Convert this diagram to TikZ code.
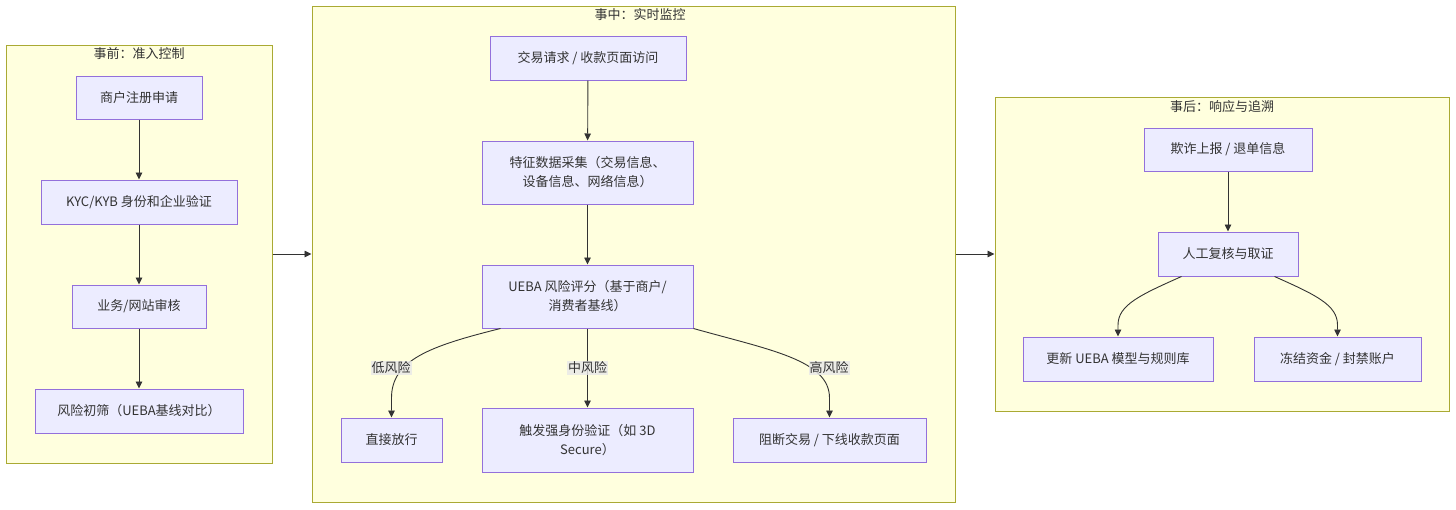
\documentclass[tikz,border=0pt]{standalone}
\usepackage{fontspec}
\setmainfont{Noto Sans CJK SC}
\usetikzlibrary{arrows.meta}
\definecolor{nodefill}{HTML}{ECECFF}
\definecolor{nodeline}{HTML}{9370DB}
\definecolor{clfill}{HTML}{FFFFDE}
\definecolor{clline}{HTML}{AAAA33}
\definecolor{ink}{HTML}{333333}
\definecolor{lblbg}{HTML}{E8E8E8}
\newcommand\myfs{\fontsize{13}{19}\selectfont}
\begin{document}
\begin{tikzpicture}[x=1pt,y=-1pt,
  box/.style={draw=nodeline, fill=nodefill, line width=1pt, inner sep=0pt, align=center, text=ink, font=\myfs},
  cluster/.style={draw=clline, fill=clfill, line width=1pt, inner sep=0pt},
  ctitle/.style={text=ink, font=\myfs, inner sep=0pt},
  lbl/.style={fill=lblbg, fill opacity=0.8, text opacity=1, text=ink, font=\myfs, inner sep=1pt},
  arr/.style={draw=ink, line width=0.9pt, -{Triangle[length=7pt,width=6.5pt]}}]
\useasboundingbox (0,0) rectangle (1456,509);
\fill[white] (0,0) rectangle (1456,509);
% clusters
\node[cluster, minimum width=266pt, minimum height=418pt] (c1) at (139,254) {};
\node[cluster, minimum width=643pt, minimum height=496pt] (c2) at (633.5,254) {};
\node[cluster, minimum width=454pt, minimum height=314pt] (c3) at (1222,254) {};
\node[ctitle] (t1) at (139,54) {事前：准入控制};
\node[ctitle] (t2) at (640,15) {事中：实时监控};
\node[ctitle] (t3) at (1222,107) {事后：响应与追溯};
% cluster 1
\node[box, minimum width=126pt, minimum height=43pt] (n1) at (139,97.5) {商户注册申请};
\node[box, minimum width=196pt, minimum height=44pt] (n2) at (139,202) {KYC/KYB 身份和企业验证};
\node[box, minimum width=134pt, minimum height=43pt] (n3) at (139,306.5) {业务/网站审核};
\node[box, minimum width=208pt, minimum height=44pt] (n4) at (139,411) {风险初筛（UEBA基线对比）};
% cluster 2
\node[box, minimum width=196pt, minimum height=44pt] (m1) at (588,58) {交易请求 / 收款页面访问};
\node[box, minimum width=211pt, minimum height=63pt] (m2) at (587.5,172.5) {特征数据采集（交易信息、\\设备信息、网络信息）};
\node[box, minimum width=211pt, minimum height=63pt] (m3) at (587.5,296.5) {UEBA 风险评分（基于商户/\\消费者基线）};
\node[box, minimum width=101pt, minimum height=44pt] (m4) at (391.5,440) {直接放行};
\node[box, minimum width=211pt, minimum height=64pt] (m5) at (587.5,440) {触发强身份验证（如 3D\\Secure）};
\node[box, minimum width=193pt, minimum height=44pt] (m6) at (829.5,440) {阻断交易 / 下线收款页面};
% cluster 3
\node[box, minimum width=168pt, minimum height=43pt] (r1) at (1228,149.5) {欺诈上报 / 退单信息};
\node[box, minimum width=140pt, minimum height=44pt] (r2) at (1228,254) {人工复核与取证};
\node[box, minimum width=190pt, minimum height=44pt] (r3) at (1118,359) {更新 UEBA 模型与规则库};
\node[box, minimum width=167pt, minimum height=44pt] (r4) at (1337.5,359) {冻结资金 / 封禁账户};
% edges
\draw[arr] (n1) -- (n2);
\draw[arr] (n2) -- (n3);
\draw[arr] (n3) -- (n4);
\draw[arr] (c1.east) -- (c2.west);
\draw[arr] (c2.east) -- (c3.west);
\draw[arr] (m1) -- (m2);
\draw[arr] (m2) -- (m3);
\draw[arr] (m3) -- (m5);
\draw[arr] ([xshift=19pt]m3.south west) .. controls (430,346) and (391.5,360) .. (391.5,398) -- (m4.north);
\draw[arr] (m3.south east) .. controls (770,350) and (829.5,360) .. (829.5,398) -- (m6.north);
\draw[arr] (r1) -- (r2);
\draw[arr] ([xshift=24pt]r2.south west) .. controls (1140,295) and (1118,305) .. (1118,325) -- (r3.north);
\draw[arr] ([xshift=-24pt]r2.south east) .. controls (1316,295) and (1337.5,305) .. (1337.5,325) -- (r4.north);
% edge labels
\node[lbl] (l1) at (391,368) {低风险};
\node[lbl] (l2) at (587.5,368) {中风险};
\node[lbl] (l3) at (829,368) {高风险};
\end{tikzpicture}
\end{document}
